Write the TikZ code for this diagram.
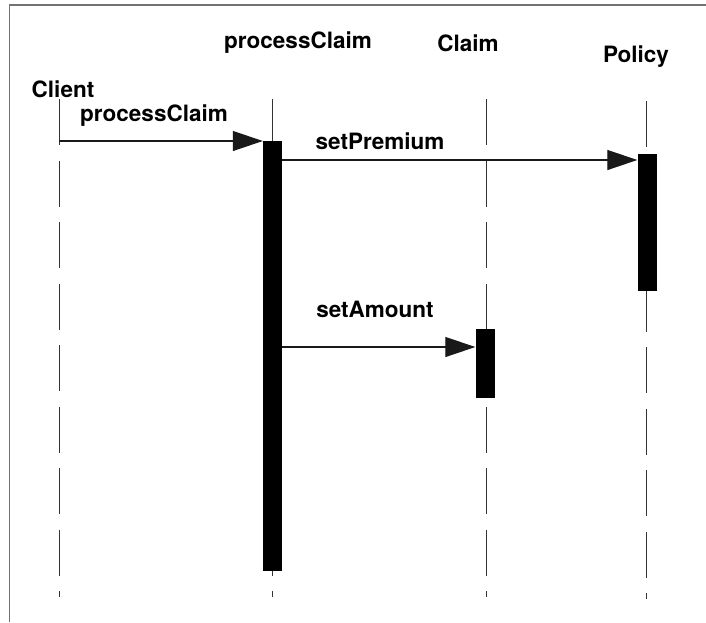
\documentclass[tikz,border=0pt]{standalone}
\usepackage{fontspec}
\setmainfont{TeX Gyre Heros}
\usetikzlibrary{arrows.meta}
\begin{document}
\begin{tikzpicture}[x=1pt,y=-1pt,
  lbl/.style={font=\bfseries\fontsize{22.5}{26}\selectfont, inner sep=0pt},
  life/.style={draw=black!80, line width=1pt, dash pattern=on 46pt off 15.5pt},
  act/.style={fill=black, draw=none, minimum width=19pt, inner sep=0pt, anchor=north},
  msg/.style={draw=black!90, line width=1.2pt, -{Triangle[length=30pt,width=20pt]}},
  frame/.style={draw=black!55, line width=1.5pt}]
\useasboundingbox (0,0) rectangle (706,622);
\draw[frame] (9.5,622) -- (9.5,5) -- (706,5);
% headers
\node[lbl] (hcl) at (63,89) {Client};
\node[lbl] (hpc) at (298,43) {processClaim};
\node[lbl] (hcm) at (468,43) {Claim};
\node[lbl] (hpo) at (636,57) {Policy};
% lifelines
\coordinate (cl-t) at (59,99);   \coordinate (cl-b) at (59,597);
\coordinate (pc-t) at (272,99);  \coordinate (pc-b) at (272,597);
\coordinate (cm-t) at (486,99);  \coordinate (cm-b) at (486,597);
\coordinate (po-t) at (646,101); \coordinate (po-b) at (646,599);
\draw[life] (cl-t) -- (cl-b);
\draw[life] (pc-t) -- (pc-b);
\draw[life] (cm-t) -- (cm-b);
\draw[life] (po-t) -- (po-b);
% activations
\node[act, minimum height=430pt] (pc) at (272.5,141) {};
\node[act, minimum height=137pt] (po) at (647,154) {};
\node[act, minimum height=69pt] (cm) at (485,329) {};
% messages
\coordinate (m1) at (59,141);
\coordinate (m2) at (0,160);
\coordinate (m3) at (0,347);
\draw[msg] (m1) -- (pc.north west);
\draw[msg] (pc.east |- m2) -- (po.west |- m2);
\draw[msg] (pc.east |- m3) -- (cm.west |- m3);
% message labels
\node[lbl] (l1) at (154,116) {processClaim};
\node[lbl] (l2) at (380,141) {setPremium};
\node[lbl] (l3) at (375,309) {setAmount};
\end{tikzpicture}
\end{document}
